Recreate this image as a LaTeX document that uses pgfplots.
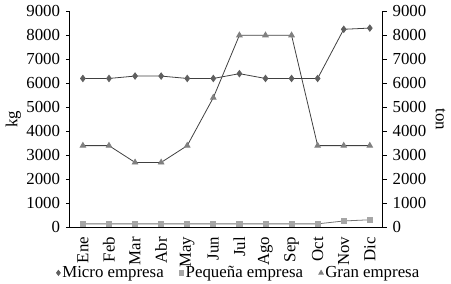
\documentclass[border=0pt]{standalone}
\usepackage{pgfplots}
\pgfplotsset{compat=1.18}
\usepackage{fontspec}
\setmainfont{Liberation Serif}
\definecolor{lineDark}{HTML}{404040}
\definecolor{markMicro}{HTML}{5F5F5F}
\definecolor{markPeq}{HTML}{A6A6A6}
\definecolor{markGran}{HTML}{808080}
\begin{document}
\fontsize{17}{20}\selectfont
\begin{tikzpicture}
\pgfplotsset{
  every axis/.append style={
    scale only axis, width=316pt, height=218pt,
    xmin=0, xmax=12, ymin=0, ymax=9000,
    ytick={0,1000,...,9000},
    /pgf/number format/assume math mode=true,
    /pgf/number format/1000 sep={},
    tick label style={font=\fontsize{17}{20}\selectfont},
    label style={font=\fontsize{17}{20}\selectfont},
    tick align=outside, major tick length=4pt,
    axis line style={line width=0.9pt, black},
    every tick/.style={black, line width=0.8pt},
  }
}
\begin{axis}[
  axis x line*=bottom, axis y line*=left,
  xtick={0.5,1.5,...,11.5},
  xticklabels={Ene,Feb,Mar,Abr,May,Jun,Jul,Ago,Sep,Oct,Nov,Dic},
  xticklabel style={rotate=90, anchor=east},
  x tick style={draw=none},
  ylabel={kg},
  ylabel style={yshift=-6pt},
  legend columns=3,
  legend style={draw=none, fill=none, at={(0.54,-0.16)}, anchor=north,
    font=\fontsize{17}{20}\selectfont,
    /tikz/every even column/.append style={column sep=14pt}},
  legend image code/.code={\draw[#1,scale=0.8] plot[only marks] coordinates {(0.05cm,0cm)};},
  legend cell align=left,
]
\addplot[lineDark, line width=0.8pt, mark=diamond*, mark size=3.2pt,
  mark options={fill=markMicro, draw=markMicro}] coordinates {
(0.5,6200) (1.5,6200) (2.5,6300) (3.5,6300) (4.5,6200) (5.5,6200)
(6.5,6400) (7.5,6200) (8.5,6200) (9.5,6200) (10.5,8250) (11.5,8300)};
\addlegendentry{Micro empresa}
\addplot[markGran!90!black, line width=0.8pt, mark=square*, mark size=2.6pt,
  mark options={fill=markPeq, draw=markPeq}] coordinates {
(0.5,140) (1.5,140) (2.5,140) (3.5,140) (4.5,140) (5.5,140)
(6.5,140) (7.5,140) (8.5,140) (9.5,140) (10.5,260) (11.5,310)};
\addlegendentry{Pequeña empresa}
\addplot[lineDark, line width=0.8pt, mark=triangle*, mark size=3.2pt,
  mark options={fill=markGran, draw=markGran}] coordinates {
(0.5,3400) (1.5,3400) (2.5,2700) (3.5,2700) (4.5,3400) (5.5,5400)
(6.5,8000) (7.5,8000) (8.5,8000) (9.5,3400) (10.5,3400) (11.5,3400)};
\addlegendentry{Gran empresa}
\end{axis}
\begin{axis}[
  axis x line=none, axis y line*=right,
  ylabel={ton},
  ylabel style={rotate=180, yshift=-2pt},
]
\end{axis}
\end{tikzpicture}
\end{document}
